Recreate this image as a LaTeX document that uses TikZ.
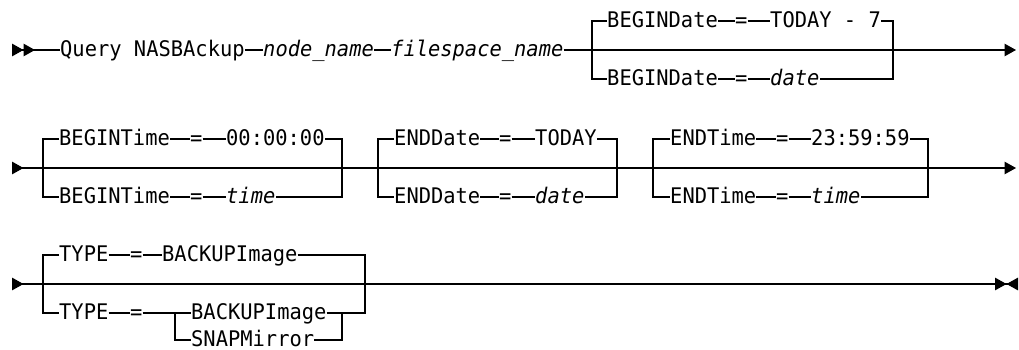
\documentclass[tikz,border=0pt]{standalone}
\usepackage{fontspec}
\newfontfamily\diagfont[FakeStretch=0.95]{DejaVu Sans Mono}
\newcommand{\railfont}{\diagfont\fontsize{21.5pt}{25pt}\selectfont}
\usetikzlibrary{arrows.meta}

\begin{document}
\begin{tikzpicture}[
    x=1pt, y=-1pt,
    kw/.style={font=\railfont, inner sep=0pt, text height=17pt, text depth=4pt, anchor=west},
    var/.style={kw, font=\railfont\itshape},
    rail/.style={line width=1.2pt},
    railstart/.style={arrows={Triangle[reversed,length=11.5pt,width=12.5pt]-}},
    railstart2/.style={arrows={Triangle[reversed,length=11.5pt,width=12.5pt] Triangle[reversed,length=11.5pt,width=12.5pt]-}},
    railcont/.style={arrows={-Triangle[length=11.5pt,width=12.5pt]}},
    railthru/.style={arrows={Triangle[reversed,length=11.5pt,width=12.5pt]-Triangle[length=11.5pt,width=12.5pt]}},
    railend/.style={arrows={-Triangle[length=11.5pt,width=12.5pt] Triangle[reversed,length=11.5pt,width=12.5pt]}}
]
\useasboundingbox (0,0) rectangle (1019,350);

% Row 1
\coordinate (s1) at (12,50);
\node[kw] (query) at (60,50) {Query NASBAckup};
\node[var] (nname) at (263,50) {node\_name};
\node[var] (fsname) at (391,50) {filespace\_name};
\coordinate (b1l) at (592,50);
\coordinate (b1r) at (893,50);
\coordinate (e1) at (1016,50);

\node[kw] (bd1u) at (607,21) {BEGINDate};
\node[kw] (eq1u) at (735,21) {=};
\node[kw] (tdy1) at (770,21) {TODAY - 7};
\node[kw] (bd1l) at (607,79) {BEGINDate};
\node[kw] (eq1l) at (735,79) {=};
\node[var] (date1) at (770,79) {date};

\draw[rail, railstart2] (s1) -- (query);
\draw[rail] (query) -- (nname) -- (fsname);
\draw[rail, railcont] (fsname) -- (e1);
\draw[rail] (bd1u) -- (eq1u) -- (tdy1);
\draw[rail] (bd1l) -- (eq1l) -- (date1);
\draw[rail] (bd1u.west) -| (b1l) |- (bd1l.west);
\draw[rail] (tdy1.east) -| (b1r) |- (date1.east);

% Row 2
\coordinate (s2) at (12,168);
\coordinate (e2) at (1016,168);
\coordinate (b2l) at (43,168);
\coordinate (b2r) at (342,168);
\coordinate (b3l) at (378,168);
\coordinate (b3r) at (617,168);
\coordinate (b4l) at (653,168);
\coordinate (b4r) at (928,168);

\node[kw] (bt2u) at (59,139) {BEGINTime};
\node[kw] (eq2u) at (190,139) {=};
\node[kw] (tz2) at (226,139) {00:00:00};
\node[kw] (bt2l) at (59,197) {BEGINTime};
\node[kw] (eq2l) at (190,197) {=};
\node[var] (time2) at (226,197) {time};

\node[kw] (ed3u) at (394,139) {ENDDate};
\node[kw] (eq3u) at (499,139) {=};
\node[kw] (tdy3) at (535,139) {TODAY};
\node[kw] (ed3l) at (394,197) {ENDDate};
\node[kw] (eq3l) at (499,197) {=};
\node[var] (date3) at (535,197) {date};

\node[kw] (et4u) at (670,139) {ENDTime};
\node[kw] (eq4u) at (776,139) {=};
\node[kw] (tm4) at (811,139) {23:59:59};
\node[kw] (et4l) at (670,197) {ENDTime};
\node[kw] (eq4l) at (776,197) {=};
\node[var] (time4) at (811,197) {time};

\draw[rail, railthru] (s2) -- (e2);
\draw[rail] (bt2u) -- (eq2u) -- (tz2);
\draw[rail] (bt2l) -- (eq2l) -- (time2);
\draw[rail] (bt2u.west) -| (b2l) |- (bt2l.west);
\draw[rail] (tz2.east) -| (b2r) |- (time2.east);
\draw[rail] (ed3u) -- (eq3u) -- (tdy3);
\draw[rail] (ed3l) -- (eq3l) -- (date3);
\draw[rail] (ed3u.west) -| (b3l) |- (ed3l.west);
\draw[rail] (tdy3.east) -| (b3r) |- (date3.east);
\draw[rail] (et4u) -- (eq4u) -- (tm4);
\draw[rail] (et4l) -- (eq4l) -- (time4);
\draw[rail] (et4u.west) -| (b4l) |- (et4l.west);
\draw[rail] (tm4.east) -| (b4r) |- (time4.east);

% Row 3
\coordinate (s3) at (12,284);
\coordinate (e3) at (1018,284);
\coordinate (b5l) at (43,284);
\coordinate (b5r) at (365,284);
\coordinate (b6l) at (175,313);
\coordinate (b6r) at (342,313);

\node[kw] (ty5u) at (59,255) {TYPE};
\node[kw] (eq5u) at (130,255) {=};
\node[kw] (bk5u) at (162,255) {BACKUPImage};
\node[kw] (ty5l) at (59,313) {TYPE};
\node[kw] (eq5l) at (130,313) {=};
\node[kw] (bk6) at (191,313) {BACKUPImage};
\node[kw] (snap6) at (191,340) {SNAPMirror};

\draw[rail, railstart] (s3) -- (b5l);
\draw[rail, railend] (b5l) -- (e3);
\draw[rail] (ty5u) -- (eq5u) -- (bk5u);
\draw[rail] (ty5l) -- (eq5l) -- (bk6);
\draw[rail] (ty5u.west) -| (b5l) |- (ty5l.west);
\draw[rail] (bk5u.east) -| (b5r);
\draw[rail] (b6l) |- (snap6.west);
\draw[rail] (bk6.east) -- (b6r) -| (b5r);
\draw[rail] (snap6.east) -| (b6r);
\end{tikzpicture}
\end{document}
